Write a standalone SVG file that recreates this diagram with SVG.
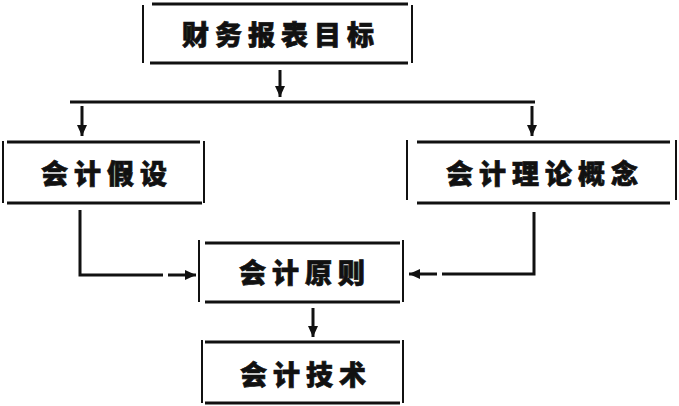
<svg xmlns="http://www.w3.org/2000/svg" width="679" height="406" viewBox="0 0 679 406">
<defs>
<style>
.h{stroke:#111;stroke-width:3;fill:none}
.v{stroke:#111;stroke-width:2;fill:none}
.c{stroke:#111;stroke-width:3;fill:none}
.t{font-family:"Noto Sans CJK SC","Noto Sans CJK TC",sans-serif;font-weight:900;font-size:27px;letter-spacing:6px;fill:#111;stroke:#111;stroke-width:0.7;text-anchor:middle}
</style>
<marker id="ah" markerUnits="userSpaceOnUse" markerWidth="12" markerHeight="12" viewBox="0 0 12 12" refX="11" refY="6" orient="auto">
<path d="M0,1 L11,6 L0,11 Z" fill="#111"/>
</marker>
</defs>
<rect width="679" height="406" fill="#fff"/>
<g id="connectors">
<line class="c" x1="280" y1="70" x2="280" y2="97" marker-end="url(#ah)"/>
<line class="h" x1="70" y1="102" x2="535" y2="102"/>
<line class="c" x1="82" y1="106" x2="82" y2="136" marker-end="url(#ah)"/>
<line class="c" x1="532" y1="106" x2="532" y2="136" marker-end="url(#ah)"/>
<polyline class="c" points="80,210 80,275 163,275"/>
<line class="c" x1="168" y1="275" x2="196" y2="275" marker-end="url(#ah)"/>
<polyline class="c" points="534,212 534,274 442,274"/>
<line class="c" x1="437" y1="274" x2="409" y2="274" marker-end="url(#ah)"/>
<line class="c" x1="313" y1="308" x2="313" y2="337" marker-end="url(#ah)"/>
</g>
<g id="node-goal">
<line class="v" x1="143" y1="5" x2="143" y2="63"/>
<line class="v" x1="412" y1="5" x2="412" y2="63"/>
<line class="h" x1="152" y1="4" x2="408" y2="4"/>
<line class="h" x1="150" y1="63" x2="408" y2="63"/>
<text class="t" x="281" y="45">财务报表目标</text>
</g>
<g id="node-assumption">
<line class="v" x1="3" y1="141" x2="3" y2="203"/>
<line class="v" x1="204" y1="141" x2="204" y2="203"/>
<line class="h" x1="7" y1="142" x2="200" y2="142"/>
<line class="h" x1="7" y1="203" x2="202" y2="203"/>
<text class="t" x="107" y="184">会计假设</text>
</g>
<g id="node-concept">
<line class="v" x1="407" y1="140" x2="407" y2="200"/>
<line class="v" x1="676" y1="140" x2="676" y2="200"/>
<line class="h" x1="417" y1="142" x2="670" y2="142"/>
<line class="h" x1="417" y1="203" x2="670" y2="203"/>
<text class="t" x="545" y="184">会计理论概念</text>
</g>
<g id="node-principle">
<line class="v" x1="199" y1="240" x2="199" y2="302"/>
<line class="v" x1="403" y1="240" x2="403" y2="302"/>
<line class="h" x1="205" y1="243" x2="400" y2="243"/>
<line class="h" x1="205" y1="302" x2="400" y2="302"/>
<text class="t" x="305" y="283">会计原则</text>
</g>
<g id="node-technique">
<line class="v" x1="202" y1="340" x2="202" y2="403"/>
<line class="v" x1="403" y1="340" x2="403" y2="403"/>
<line class="h" x1="205" y1="342" x2="400" y2="342"/>
<line class="h" x1="205" y1="403" x2="400" y2="403"/>
<text class="t" x="306" y="385">会计技术</text>
</g>
</svg>
